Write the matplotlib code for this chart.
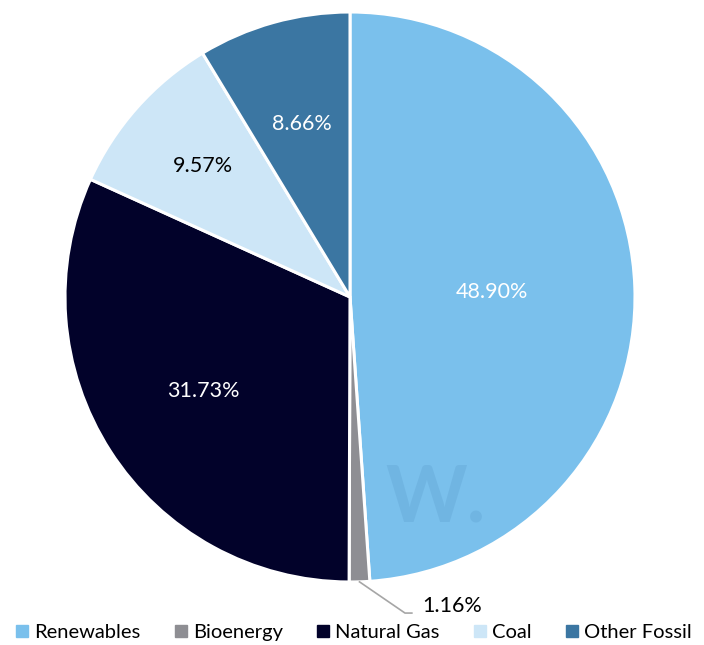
import numpy as np
import matplotlib.pyplot as plt
from matplotlib.lines import Line2D

# energy mix shares (%)
sources = ["Renewables", "Bioenergy", "Natural Gas", "Coal", "Other Fossil"]
shares = [48.90, 1.16, 31.73, 9.57, 8.66]
colors = ["#7AC0EC", "#8E8E93", "#02022A", "#CDE6F7", "#3B76A2"]
text_colors = ["white", "black", "white", "black", "white"]
label_r = [0.50, None, 0.61, 0.69, 0.63]

plt.rcParams['font.family'] = ['Lato', 'DejaVu Sans']

fig = plt.figure(figsize=(7.04, 6.45), dpi=100)
W, H = 704, 645
cx, cy, R = 350, 297, 285
ax = fig.add_axes([(cx - R) / W, (H - cy - R) / H, 2 * R / W, 2 * R / H])

wedges, _ = ax.pie(shares, colors=colors, startangle=90, counterclock=False,
                   wedgeprops=dict(edgecolor="white", linewidth=2.2))
ax.set_xlim(-1, 1)
ax.set_ylim(-1, 1)
ax.set_aspect("equal")
ax.axis("off")

# faint watermark
ax.text(0.30, -0.71, "W.", fontsize=56, fontweight="bold", color="#4F8FC0",
        alpha=0.22, ha="center", va="center")

for w, val, tc, r in zip(wedges, shares, text_colors, label_r):
    ang = np.deg2rad((w.theta1 + w.theta2) / 2)
    if r is not None:
        ax.text(r * np.cos(ang), r * np.sin(ang), f"{val:.2f}%", color=tc,
                fontsize=15.5, ha="center", va="center")
    else:
        # small slice: label outside with a leader line
        x0, y0 = np.cos(ang), np.sin(ang)
        ax.add_line(Line2D([x0, 0.193, 0.217], [y0, -1.109, -1.109],
                           color="#A6A6A6", lw=1.2, clip_on=False))
        ax.text(0.252, -1.085, f"{val:.2f}%", color="black", fontsize=15.5,
                ha="left", va="center", clip_on=False)

handles = [Line2D([], [], marker="s", ls="", markersize=8, color=c) for c in colors]
fig.legend(handles, sources, loc="lower center", ncol=5, frameon=False,
           bbox_to_anchor=(0.5, -0.022), fontsize=14.5, handletextpad=0.1,
           columnspacing=1.5, handlelength=1.0)

fig.savefig("out.png", dpi=100)
